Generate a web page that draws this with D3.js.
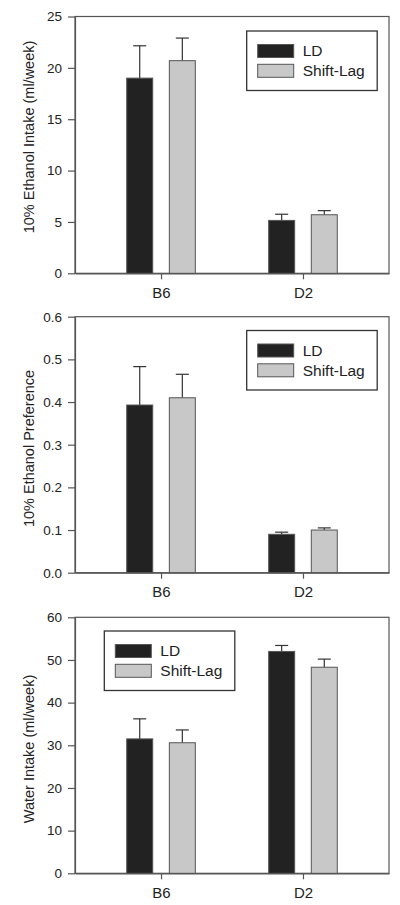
<!DOCTYPE html>
<html><head><meta charset="utf-8">
<script src="https://cdn.jsdelivr.net/npm/d3@7"></script>
<style>body{margin:0;background:#fff}svg{display:block}</style>
</head><body>
<script>
const categories = ["B6", "D2"];
const series = ["LD", "Shift-Lag"];
// panel 1: 10% Ethanol Intake
const intakeMean = { "LD": [19.0, 5.15], "Shift-Lag": [20.7, 5.7] };
const intakeErr  = { "LD": [3.15, 0.6],  "Shift-Lag": [2.2, 0.4] };
const intakeTicks = [0, 5, 10, 15, 20, 25];
// panel 2: 10% Ethanol Preference
const prefMean = { "LD": [0.393, 0.090], "Shift-Lag": [0.410, 0.100] };
const prefErr  = { "LD": [0.090, 0.005], "Shift-Lag": [0.055, 0.005] };
const prefTicks = [0.0, 0.1, 0.2, 0.3, 0.4, 0.5, 0.6];
// panel 3: Water Intake
const waterMean = { "LD": [31.5, 52.0], "Shift-Lag": [30.6, 48.3] };
const waterErr  = { "LD": [4.7, 1.4],  "Shift-Lag": [3.0, 1.9] };
const waterTicks = [0, 10, 20, 30, 40, 50, 60];

const colors = { "LD": "#222222", "Shift-Lag": "#c8c8c8" };
const FONT = "'Liberation Sans', Arial, sans-serif";

const svg = d3.select("body").append("svg").attr("width", 400).attr("height", 905);

function panel(cfg) {
  const L = 75, R = 389;
  const y = d3.scaleLinear().domain([cfg.ticks[0], cfg.ticks[cfg.ticks.length-1]]).range([cfg.bottom, cfg.top]);
  const x0 = d3.scalePoint().domain(categories).range([L, R]).padding(0.606);
  const x1 = d3.scaleBand().domain(series).range([-34.3, 34.3]).paddingInner(0.39).paddingOuter(0);
  const g = svg.append("g");

  // frame
  g.append("rect").attr("x", L).attr("y", cfg.top).attr("width", R - L).attr("height", cfg.bottom - cfg.top)
    .attr("fill", "none").attr("stroke", "#555").attr("stroke-width", 1.2);

  // bars
  series.forEach(s => {
    categories.forEach((c, i) => {
      const v = cfg.mean[s][i], e = cfg.err[s][i];
      const bx = x0(c) + x1(s);
      const cx = bx + x1.bandwidth() / 2;
      g.append("line").attr("x1", cx).attr("x2", cx).attr("y1", y(v)).attr("y2", y(v + e))
        .attr("stroke", "#333").attr("stroke-width", 1.2);
      g.append("line").attr("x1", cx - 6.5).attr("x2", cx + 6.5).attr("y1", y(v + e)).attr("y2", y(v + e))
        .attr("stroke", "#333").attr("stroke-width", 1.2);
      g.append("rect").attr("x", bx).attr("y", y(v)).attr("width", x1.bandwidth()).attr("height", y(0) - y(v))
        .attr("fill", colors[s]).attr("stroke", "#555").attr("stroke-width", 1);
    });
  });

  // y axis
  const ya = g.append("g").attr("transform", `translate(${L},0)`)
    .call(d3.axisLeft(y).tickValues(cfg.ticks).tickFormat(cfg.fmt).tickSize(7).tickPadding(6).tickSizeOuter(0));
  ya.select(".domain").attr("stroke", "#555").attr("stroke-width", 1.2);
  ya.selectAll(".tick line").attr("stroke", "#555").attr("stroke-width", 1.2);
  ya.selectAll("text").attr("font-family", FONT).attr("font-size", 13.5).attr("fill", "#222");

  // x axis
  const xa = g.append("g").attr("transform", `translate(0,${cfg.bottom})`)
    .call(d3.axisBottom(x0).tickSize(6).tickPadding(8).tickSizeOuter(0));
  xa.select(".domain").attr("stroke", "#555").attr("stroke-width", 1.2);
  xa.selectAll(".tick line").attr("stroke", "#555").attr("stroke-width", 1.2);
  xa.selectAll("text").attr("font-family", FONT).attr("font-size", 15).attr("fill", "#222");

  // y title
  g.append("text").attr("transform", `translate(33.5,${cfg.titleY}) rotate(-90)`)
    .attr("text-anchor", "middle").attr("font-family", FONT).attr("font-size", 14.5).attr("fill", "#222")
    .text(cfg.title);

  // legend
  const lg = g.append("g").attr("transform", `translate(${cfg.legX},${cfg.legY})`);
  lg.append("rect").attr("x", 0).attr("y", 0).attr("width", 130.5).attr("height", 59.5)
    .attr("fill", "#fff").attr("stroke", "#333").attr("stroke-width", 1.3);
  series.forEach((s, i) => {
    lg.append("rect").attr("x", 11).attr("y", 13.5 + i * 19.8).attr("width", 36).attr("height", 13)
      .attr("fill", colors[s]).attr("stroke", "#555").attr("stroke-width", 1);
    lg.append("text").attr("x", 56).attr("y", 20 + i * 19.8).attr("dy", "0.35em")
      .attr("font-family", FONT).attr("font-size", 15.5).attr("fill", "#222").text(s);
  });
}

panel({ top: 16.5, bottom: 273.3, ticks: intakeTicks, fmt: d3.format("d"), mean: intakeMean, err: intakeErr,
  title: "10% Ethanol Intake (ml/week)", titleY: 137, legX: 246.7, legY: 31 });
panel({ top: 316.7, bottom: 572.7, ticks: prefTicks, fmt: d3.format(".1f"), mean: prefMean, err: prefErr,
  title: "10% Ethanol Preference", titleY: 448.5, legX: 246.7, legY: 330.5 });
panel({ top: 617.3, bottom: 873.3, ticks: waterTicks, fmt: d3.format("d"), mean: waterMean, err: waterErr,
  title: "Water Intake (ml/week)", titleY: 749, legX: 104.3, legY: 631 });
</script>
</body></html>
